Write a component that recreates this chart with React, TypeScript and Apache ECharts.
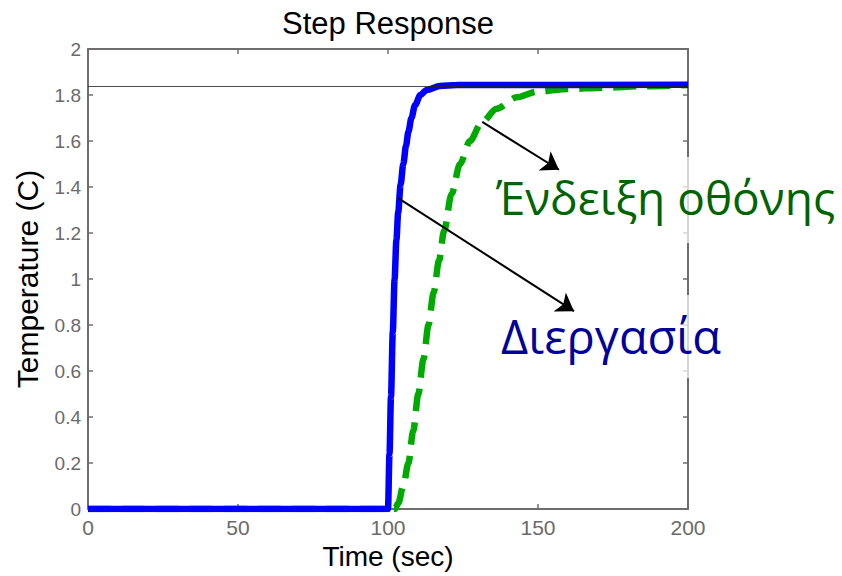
import React, { useEffect, useRef } from "react";
import * as echarts from "echarts";

// ---- data ----
const xTicks = [0, 50, 100, 150, 200];
const yTicks = [0, 0.2, 0.4, 0.6, 0.8, 1, 1.2, 1.4, 1.6, 1.8, 2];

const blueT = [0, 100, 100.5, 101, 101.6, 102.2, 102.8, 103.4, 104.2, 105.1, 106, 106.8, 107.8, 109, 110.8, 112.9, 117.3, 122.9, 200];
const blueY = [0, 0, 0.24, 0.49, 0.77, 1.0, 1.17, 1.29, 1.41, 1.5, 1.58, 1.64, 1.7, 1.755, 1.8, 1.822, 1.839, 1.843, 1.845];

const greenT = [0, 102.3, 103.4, 105.1, 106.8, 108.4, 110.1, 111.8, 113.5, 115.2, 117, 118.7, 121.2, 124, 127.3, 131.2, 136.2, 142.9, 149.6, 160, 171.7, 185, 200];
const greenY = [0, 0, 0.025, 0.1, 0.2, 0.34, 0.5, 0.65, 0.8, 0.94, 1.08, 1.21, 1.37, 1.5, 1.6, 1.68, 1.74, 1.79, 1.814, 1.826, 1.832, 1.838, 1.843];

const steadyState = 1.845;

// arrows: [fromT, fromY, toT, toY]
const arrowDisplay = [131.4, 1.683, 157.0, 1.475];
const arrowProcess = [103.4, 1.352, 162.0, 0.86];

const titleText = "Step Response";
const xName = "Time (sec)";
const yName = "Temperature (C)";
const labelDisplay = "Ένδειξη οθόνης";
const labelProcess = "Διεργασία";

export default function App() {
  const ref = useRef<HTMLDivElement>(null);
  useEffect(() => {
    if (!ref.current) return;
    const chart = echarts.init(ref.current, undefined, { renderer: "svg" });
    const axisColor = "#6e6e6e";
    const font = "Liberation Sans";
    const commonX = {
      type: "value",
      min: xTicks[0],
      max: xTicks[xTicks.length - 1],
      interval: xTicks[1] - xTicks[0],
      splitLine: { show: false },
      axisLine: { onZero: false, lineStyle: { color: axisColor, width: 2 } },
      axisTick: { inside: true, length: 5, lineStyle: { color: axisColor, width: 1.5 } },
    };
    const commonY = {
      type: "value",
      min: yTicks[0],
      max: yTicks[yTicks.length - 1],
      interval: yTicks[1] - yTicks[0],
      splitLine: { show: false },
      axisLine: { onZero: false, lineStyle: { color: axisColor, width: 2 } },
      axisTick: { inside: true, length: 5, lineStyle: { color: axisColor, width: 1.5 } },
    };
    const option: any = {
      animation: false,
      backgroundColor: "#ffffff",
      grid: { left: 88, right: 154, top: 49, bottom: 67 },
      xAxis: [
        {
          ...commonX,
          position: "bottom",
          name: xName,
          nameLocation: "middle",
          nameGap: 33,
          nameTextStyle: { fontFamily: font, fontSize: 28, color: "#000" },
          axisLabel: { fontFamily: font, fontSize: 21, color: "#6a6a6a", margin: 8 },
        },
        {
          ...commonX,
          position: "top",
          axisLabel: { show: false },
        },
      ],
      yAxis: [
        {
          ...commonY,
          position: "left",
          name: yName,
          nameLocation: "middle",
          nameGap: 46,
          nameTextStyle: { fontFamily: font, fontSize: 30, color: "#000" },
          axisLabel: { fontFamily: font, fontSize: 19, color: "#6a6a6a", margin: 7 },
        },
        {
          ...commonY,
          position: "right",
          axisLabel: { show: false },
        },
      ],
      series: [
        {
          type: "line",
          xAxisIndex: 0,
          yAxisIndex: 0,
          z: 2,
          data: greenT.map((t, i) => [t, greenY[i]]),
          showSymbol: false,
          smooth: 0.3,
          smoothMonotone: "x",
          lineStyle: { color: "#00aa00", width: 6.5, type: [23, 11] },
          markLine: {
            silent: true,
            symbol: ["none", "none"],
            label: { show: false },
            lineStyle: { color: "#222", width: 0.8, type: "solid" },
            data: [{ yAxis: steadyState }],
          },
        },
        {
          type: "line",
          xAxisIndex: 0,
          yAxisIndex: 0,
          z: 3,
          data: blueT.map((t, i) => [t, blueY[i]]),
          showSymbol: false,
          smooth: 0.3,
          smoothMonotone: "x",
          lineStyle: { color: "#0000ff", width: 6.5 },
          markLine: {
            silent: true,
            symbol: ["none", "arrow"],
            symbolSize: 17,
            label: { show: false },
            lineStyle: { color: "#000", width: 2, type: "solid" },
            data: [
              [{ coord: [arrowDisplay[0], arrowDisplay[1]] }, { coord: [arrowDisplay[2], arrowDisplay[3]] }],
              [{ coord: [arrowProcess[0], arrowProcess[1]] }, { coord: [arrowProcess[2], arrowProcess[3]] }],
            ],
          },
        },
      ],
      graphic: [
        {
          type: "text",
          x: 388,
          y: 23,
          z: 100,
          style: {
            text: titleText,
            fontFamily: font,
            fontSize: 31,
            fill: "#000",
            align: "center",
            verticalAlign: "middle",
          },
        },
        {
          type: "rect",
          z: 90,
          shape: { x: 680, y: 157, width: 14, height: 86 },
          style: { fill: "rgba(255,255,255,0.72)" },
        },
        {
          type: "rect",
          z: 90,
          shape: { x: 680, y: 295, width: 14, height: 83 },
          style: { fill: "rgba(255,255,255,0.72)" },
        },
        {
          type: "text",
          x: 496,
          y: 197,
          z: 100,
          style: {
            text: labelDisplay,
            fontFamily: "Open Sans",
            fontSize: 46,
            fill: "#006400",
            align: "left",
            verticalAlign: "middle",
          },
        },
        {
          type: "text",
          x: 501,
          y: 336,
          z: 100,
          style: {
            text: labelProcess,
            fontFamily: "Open Sans",
            fontSize: 47,
            fill: "#00009c",
            align: "left",
            verticalAlign: "middle",
          },
        },
      ],
    };
    chart.setOption(option);
    return () => chart.dispose();
  }, []);
  return (
    <div
      ref={ref}
      style={{ position: "absolute", left: 0, top: 0, width: 842, height: 576 }}
    />
  );
}
